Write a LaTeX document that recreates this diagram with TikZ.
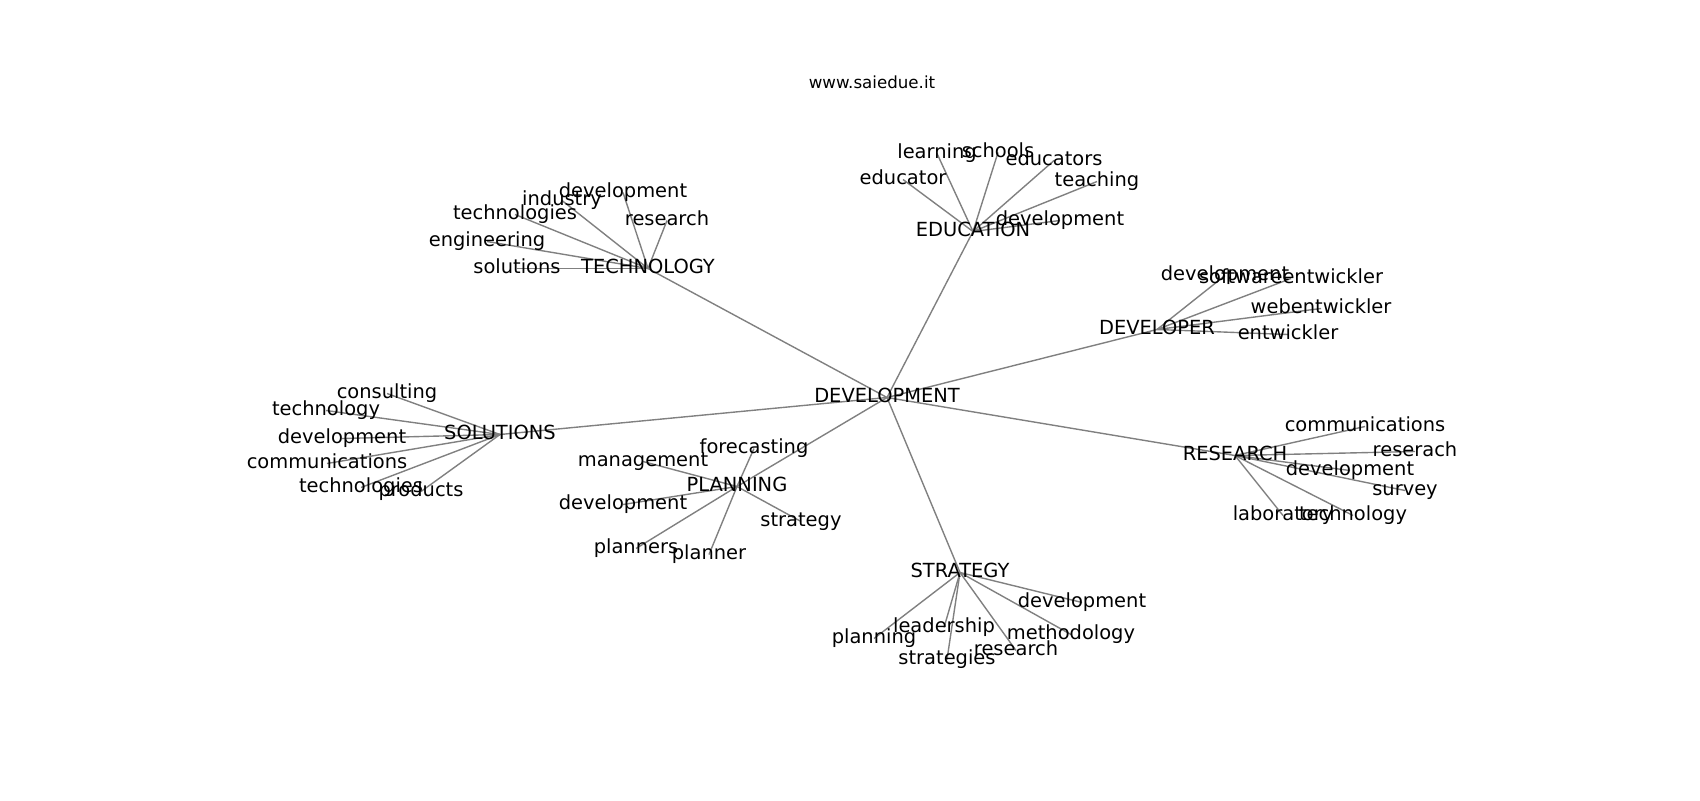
\documentclass[tikz,border=0pt]{standalone}
\usepackage{fontspec}
\setmainfont{DejaVu Sans}
\usetikzlibrary{backgrounds}
\begin{document}
\begin{tikzpicture}[x=0.72pt,y=-0.72pt,
  lbl/.style={font=\fontsize{14pt}{16pt}\selectfont, inner sep=0pt, text height=0.73em, text depth=0pt, anchor=center, text=black, yshift=-1.8pt},
  ttl/.style={font=\fontsize{12pt}{14pt}\selectfont, inner sep=0pt, text height=0.73em, text depth=0pt, anchor=center, text=black, yshift=-1pt},
  edge/.style={draw=gray, line width=1pt}]
\begin{scope}[on background layer]
\fill[white] (0,0) rectangle (1700,800);
\end{scope}
\path[use as bounding box] (0,0) rectangle (1700,800);

\node[ttl] (title) at (872,82) {www.saiedue.it};

\node[lbl] (dev) at (887,395) {DEVELOPMENT};

\node[lbl] (tech) at (648,266) {TECHNOLOGY};
\node[lbl] (t1) at (623,190) {development};
\node[lbl] (t2) at (562,198) {industry};
\node[lbl] (t3) at (515,212) {technologies};
\node[lbl] (t4) at (667,218) {research};
\node[lbl] (t5) at (487,239) {engineering};
\node[lbl] (t6) at (517,266) {solutions};

\node[lbl] (edu) at (973,229) {EDUCATION};
\node[lbl] (e1) at (937,151) {learning};
\node[lbl] (e2) at (998,150) {schools};
\node[lbl] (e3) at (1054,158) {educators};
\node[lbl] (e4) at (903,177) {educator};
\node[lbl] (e5) at (1097,179) {teaching};
\node[lbl] (e6) at (1060,218) {development};

\node[lbl] (dvp) at (1157,327) {DEVELOPER};
\node[lbl] (d1) at (1225,273) {development};
\node[lbl] (d2) at (1291,276) {softwareentwickler};
\node[lbl] (d3) at (1321,306) {webentwickler};
\node[lbl] (d4) at (1288,332) {entwickler};

\node[lbl] (sol) at (500,432) {SOLUTIONS};
\node[lbl] (s1) at (387,391) {consulting};
\node[lbl] (s2) at (326,408) {technology};
\node[lbl] (s3) at (342,436) {development};
\node[lbl] (s4) at (327,461) {communications};
\node[lbl] (s5) at (361,485) {technologies};
\node[lbl] (s6) at (421,489) {products};

\node[lbl] (pla) at (737,484) {PLANNING};
\node[lbl] (p1) at (754,446) {forecasting};
\node[lbl] (p2) at (643,459) {management};
\node[lbl] (p3) at (623,502) {development};
\node[lbl] (p4) at (801,519) {strategy};
\node[lbl] (p5) at (636,546) {planners};
\node[lbl] (p6) at (709,552) {planner};

\node[lbl] (res) at (1235,453) {RESEARCH};
\node[lbl] (r1) at (1365,424) {communications};
\node[lbl] (r2) at (1415,449) {reserach};
\node[lbl] (r3) at (1350,468) {development};
\node[lbl] (r4) at (1405,488) {survey};
\node[lbl] (r5) at (1283,513) {laboratory};
\node[lbl] (r6) at (1353,513) {technology};

\node[lbl] (str) at (960,570) {STRATEGY};
\node[lbl] (g1) at (1082,600) {development};
\node[lbl] (g2) at (944,625) {leadership};
\node[lbl] (g3) at (874,636) {planning};
\node[lbl] (g4) at (1071,632) {methodology};
\node[lbl] (g5) at (1016,648) {research};
\node[lbl] (g6) at (947,657) {strategies};

\begin{scope}[on background layer]
\foreach \h in {tech,edu,dvp,sol,pla,res,str} \draw[edge] (dev.center) -- (\h.center);
\foreach \l in {t1,t2,t3,t4,t5,t6} \draw[edge] (tech.center) -- (\l.center);
\foreach \l in {e1,e2,e3,e4,e5,e6} \draw[edge] (edu.center) -- (\l.center);
\foreach \l in {d1,d2,d3,d4} \draw[edge] (dvp.center) -- (\l.center);
\foreach \l in {s1,s2,s3,s4,s5,s6} \draw[edge] (sol.center) -- (\l.center);
\foreach \l in {p1,p2,p3,p4,p5,p6} \draw[edge] (pla.center) -- (\l.center);
\foreach \l in {r1,r2,r3,r4,r5,r6} \draw[edge] (res.center) -- (\l.center);
\foreach \l in {g1,g2,g3,g4,g5,g6} \draw[edge] (str.center) -- (\l.center);
\end{scope}
\end{tikzpicture}
\end{document}
